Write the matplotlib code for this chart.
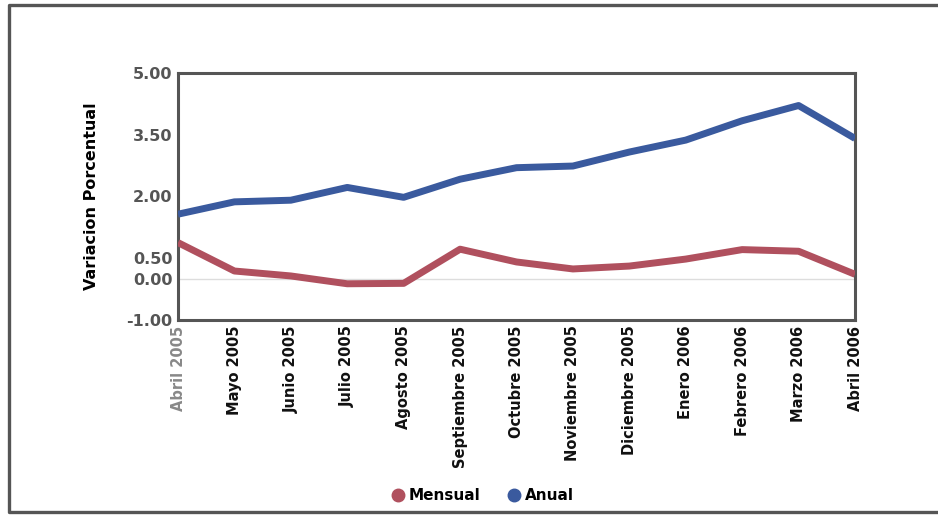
import matplotlib
matplotlib.use("Agg")
import matplotlib.pyplot as plt
from matplotlib.lines import Line2D

meses = ["Abril 2005", "Mayo 2005", "Junio 2005", "Julio 2005", "Agosto 2005",
         "Septiembre 2005", "Octubre 2005", "Noviembre 2005", "Diciembre 2005",
         "Enero 2006", "Febrero 2006", "Marzo 2006", "Abril 2006"]
mensual = [0.88, 0.19, 0.07, -0.12, -0.11, 0.72, 0.41, 0.24, 0.31, 0.48, 0.71, 0.67, 0.11]
anual = [1.57, 1.87, 1.91, 2.22, 1.98, 2.42, 2.70, 2.74, 3.08, 3.37, 3.84, 4.21, 3.41]
yticks = [5.00, 3.50, 2.00, 0.50, 0.00, -1.00]

c_red = "#b0505e"
c_blue = "#3a5a9e"

W, H = 938, 515
fig = plt.figure(figsize=(W/100, H/100), dpi=100)
# outer frame (open on the right side)
fx = [W, 9, 9, W]
fy = [H-5, H-5, H-512, H-512]
fig.add_artist(Line2D([v/W for v in fx], [v/H for v in fy], transform=fig.transFigure,
                      color="#555555", linewidth=2.4))

ax = fig.add_axes([178/W, 1-320/H, (855-178)/W, (320-73)/H])
x = list(range(len(meses)))
ax.plot(x, mensual, color=c_red, linewidth=5, solid_capstyle="butt", zorder=3)
ax.plot(x, anual, color=c_blue, linewidth=5, solid_capstyle="butt", zorder=3)

ax.set_xlim(0, len(meses)-1)
ax.set_ylim(-1, 5)
ax.set_yticks(yticks)
ax.set_yticklabels([f"{v:.2f}" for v in yticks], fontweight="bold", color="#555555", fontsize=11.5)
ax.set_xticks(x)
ax.set_xticklabels(meses, rotation=90, fontweight="bold", fontsize=10.5, color="#111111")
ax.get_xticklabels()[0].set_color("#888888")
ax.tick_params(axis="both", length=0, pad=4)
ax.axhline(0, color="#dddddd", linewidth=1, zorder=1)
for s in ax.spines.values():
    s.set_color("#555555")
    s.set_linewidth(2.2)
ax.set_ylabel("Variacion Porcentual", fontweight="bold", fontsize=11.5, labelpad=20)

handles = [Line2D([], [], marker="o", linestyle="none", color=c_red, markersize=9),
           Line2D([], [], marker="o", linestyle="none", color=c_blue, markersize=9)]
fig.legend(handles, ["Mensual", "Anual"], loc="center", bbox_to_anchor=(478/W, 1-496/H),
           ncol=2, frameon=False, handletextpad=-0.3, columnspacing=1.2,
           prop={"weight": "bold", "size": 11})

fig.savefig("out.png", dpi=100)
